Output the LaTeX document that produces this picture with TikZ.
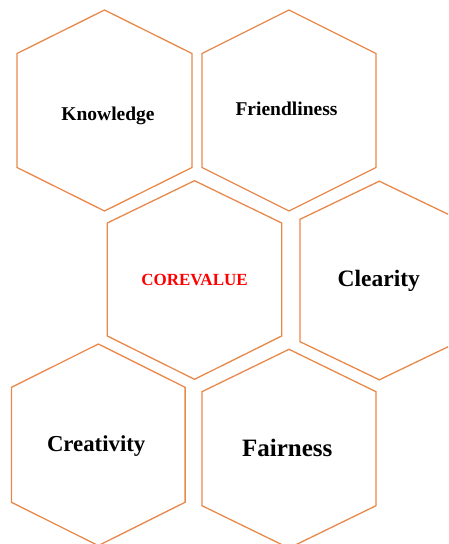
\documentclass[tikz,border=0pt]{standalone}
\usepackage{fontspec}
\setmainfont{Liberation Serif}
\definecolor{hexorange}{RGB}{232,136,74}
\definecolor{corered}{RGB}{255,0,0}
\tikzset{
  hexline/.style={draw=hexorange, line width=1.3pt, line join=miter},
  lbl/.style={anchor=base, inner sep=0pt, font=\bfseries},
}
\newcommand{\hexdraw}[6]{%
  \draw[hexline, shift={(#1,#2)}] (-#3,-#5) -- (0,-#4) -- (#3,-#5) -- (#3,#6) -- (0,#4) -- (-#3,#6) -- cycle;}
\begin{document}
\begin{tikzpicture}[x=1pt,y=-1pt]
\useasboundingbox (0,0) rectangle (448,544);
\clip (0,0) rectangle (448,544);
% hexagons: center x, center y, half width, half height, upper shoulder, lower shoulder
\hexdraw{104.5}{110.5}{87.5}{100.5}{57}{57}
\hexdraw{289}{110.5}{87}{100.5}{57}{57}
\hexdraw{194.5}{280}{87.2}{99.3}{57}{56}
\hexdraw{379.3}{280.5}{79.3}{99.3}{61.2}{61.2}
\hexdraw{98.3}{444.8}{86.8}{100.8}{57.5}{57.5}
\hexdraw{289}{448.7}{87}{99.4}{57}{57}
% labels
\node[lbl, font=\bfseries\fontsize{19.5}{22}\selectfont] (knowledge) at (108,120) {Knowledge};
\node[lbl, font=\bfseries\fontsize{19.5}{22}\selectfont] (friendliness) at (286.5,115.7) {Friendliness};
\node[lbl, font=\bfseries\fontsize{17}{20}\selectfont, text=corered] (core) at (194.5,285.7) {COREVALUE};
\node[lbl, font=\bfseries\fontsize{23.5}{26}\selectfont] (clearity) at (378.8,286) {Clearity};
\node[lbl, font=\bfseries\fontsize{22.8}{26}\selectfont] (creativity) at (96.2,451) {Creativity};
\node[lbl, font=\bfseries\fontsize{25}{28}\selectfont] (fairness) at (287.3,456.7) {Fairness};
\end{tikzpicture}
\end{document}
